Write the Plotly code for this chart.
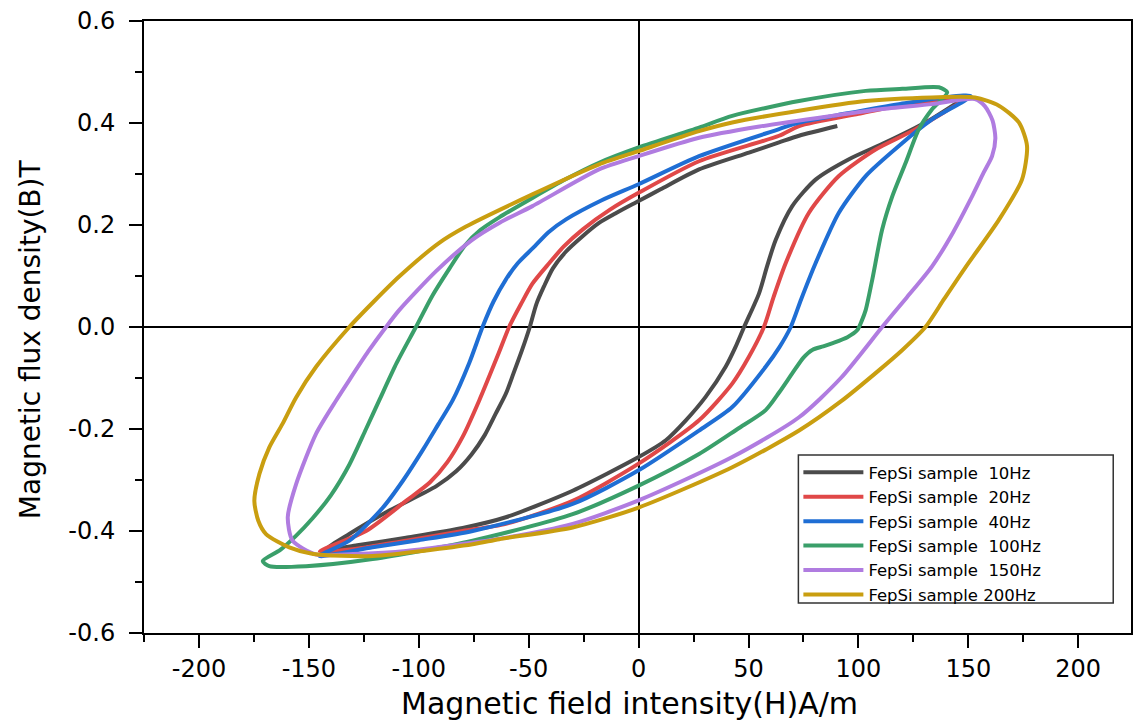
import plotly.graph_objects as go

# ---- data (H in A/m, B in T) ----
series_names = ["FepSi sample \u00a010Hz", "FepSi sample \u00a020Hz", "FepSi sample \u00a040Hz",
                "FepSi sample \u00a0100Hz", "FepSi sample \u00a0150Hz", "FepSi sample 200Hz"]
series_colors = ["#4b4b4b", "#e04848", "#1f6ed4", "#3a9f6a", "#b07ce0", "#c99e10"]

h_10 = [90.4, 73, 63.9, 50.2, 27.5, 10, 0, -10, -18, -26, -33, -39, -43, -46.5, -49.5, -53, -57, -60.4, -65, -70, -76, -83, -92, -113.4, -131.6, -142,
        -128, -105.8, -80, -60.4, -30, 0, 12.4, 21.5, 30.5, 39.6, 44, 48, 54.8, 58.5, 62.4, 69.9, 80.5, 95.7, 112.4, 130.5, 146]
b_10 = [0.394, 0.375, 0.362, 0.342, 0.309, 0.27, 0.247, 0.224, 0.204, 0.176, 0.148, 0.115, 0.08, 0.045, 0.0, -0.045, -0.092, -0.131, -0.17, -0.212, -0.25, -0.283, -0.312, -0.36, -0.406, -0.436,
        -0.428, -0.413, -0.394, -0.373, -0.321, -0.255, -0.222, -0.183, -0.137, -0.078, -0.04, 0.0, 0.066, 0.12, 0.171, 0.237, 0.289, 0.329, 0.362, 0.401, 0.443]

h_20 = [147, 118.4, 100, 73, 63.9, 27.5, 0, -13, -25.5, -34, -40.7, -48.3, -53.5, -58.9, -64, -72.5, -80, -87, -95, -105.8, -124, -145,
        -130, -105.8, -80, -60.4, -30, 0, 27.5, 42.6, 50, 57, 61.5, 66.9, 77.5, 91.1, 107.8, 126, 147]
b_20 = [0.447, 0.434, 0.418, 0.394, 0.375, 0.325, 0.263, 0.23, 0.191, 0.158, 0.125, 0.085, 0.045, 0.0, -0.055, -0.144, -0.215, -0.265, -0.305, -0.341, -0.400, -0.440,
        -0.436, -0.419, -0.4, -0.386, -0.341, -0.268, -0.183, -0.111, -0.06, 0.0, 0.06, 0.125, 0.224, 0.296, 0.348, 0.388, 0.447]

h_40 = [151, 118.4, 90, 73, 63.9, 27.5, 0, -17, -33, -41, -48, -55, -60.4, -66, -71, -77, -84.6, -91, -98, -107, -116.5, -131.6, -145.2,
        -121, -100, -75.5, -30, 0, 27.5, 42.6, 57.8, 64, 69.2, 74, 80.5, 91.1, 103.3, 118.4, 133.5, 151]
b_40 = [0.453, 0.437, 0.415, 0.401, 0.388, 0.335, 0.280, 0.248, 0.211, 0.186, 0.155, 0.125, 0.093, 0.05, 0.0, -0.07, -0.144, -0.19, -0.24, -0.30, -0.355, -0.419, -0.449,
        -0.432, -0.418, -0.40, -0.347, -0.281, -0.203, -0.157, -0.078, -0.04, 0.0, 0.055, 0.125, 0.224, 0.296, 0.355, 0.407, 0.453]

h_100 = [140.4, 136.6, 120, 103.3, 73, 42.6, 27.5, 0, -18, -33, -48.3, -63.4, -72, -79, -86, -94, -101.3, -110, -118, -124, -131.6, -140, -148.3, -156, -163, -171,
         -168, -151.3, -121, -75.5, -30, 0, 27.5, 45, 57.8, 64, 69.9, 75, 79, 84, 88, 95, 99.5, 101.5, 103.3, 106.3, 110.8, 115.4, 121.5, 127.5, 133.5, 140.4]
b_100 = [0.46, 0.47, 0.467, 0.463, 0.443, 0.414, 0.391, 0.352, 0.322, 0.29, 0.253, 0.215, 0.19, 0.16, 0.115, 0.06, 0.0, -0.07, -0.144, -0.2, -0.27, -0.33, -0.375, -0.41, -0.437, -0.459,
         -0.469, -0.469, -0.455, -0.419, -0.367, -0.311, -0.249, -0.2, -0.163, -0.128, -0.091, -0.06, -0.045, -0.038, -0.032, -0.02, -0.006, 0.012, 0.033, 0.093, 0.191, 0.256, 0.322, 0.388, 0.427, 0.46]

h_150 = [153, 133.5, 110, 88, 55, 27.5, 0, -18, -48.3, -63, -76, -92, -108.9, -114.9, -123, -131.6, -137.6, -146.7, -155.8, -159.6, -157.4, -146.7,
         -130, -105.8, -60.4, -30, 0, 42.6, 73, 92, 110.8, 122, 133.5, 143, 151.7, 157, 160.8, 162.3, 161, 157.5, 153]
b_150 = [0.447, 0.437, 0.427, 0.414, 0.393, 0.371, 0.335, 0.309, 0.237, 0.205, 0.17, 0.11, 0.033, 0.0, -0.048, -0.104, -0.144, -0.209, -0.308, -0.373, -0.419, -0.446,
         -0.445, -0.439, -0.413, -0.386, -0.340, -0.255, -0.177, -0.1, 0.0, 0.058, 0.119, 0.185, 0.256, 0.303, 0.335, 0.37, 0.405, 0.433, 0.447]

h_200 = [153, 133.5, 103.3, 73, 42.6, 27.5, 0, -18, -48.3, -78.5, -90.7, -108.9, -120, -131.6, -146.7, -155.8, -162, -168, -172.5, -174.8,
         -173, -169.5, -158.9, -148, -121, -75.5, -63.4, -30, 0, 42.6, 73, 92, 109.3, 120, 130.5, 139, 148.7, 163.9, 174.4, 176.7, 173, 163.9, 153]
b_200 = [0.45, 0.45, 0.443, 0.424, 0.401, 0.384, 0.345, 0.319, 0.26, 0.197, 0.165, 0.099, 0.052, 0.0, -0.078, -0.138, -0.19, -0.236, -0.288, -0.341,
         -0.38, -0.406, -0.432, -0.445, -0.449, -0.426, -0.416, -0.393, -0.354, -0.275, -0.203, -0.146, -0.085, -0.045, 0.0, 0.055, 0.117, 0.21, 0.289, 0.355, 0.401, 0.434, 0.45]

x_tick_vals = [-200, -150, -100, -50, 0, 50, 100, 150, 200]
x_tick_text = ["-200", "-150", "-100", "-50", "0", "50", "100", "150", "200"]
y_tick_vals = [-0.6, -0.4, -0.2, 0.0, 0.2, 0.4, 0.6]
y_tick_text = ["-0.6", "-0.4", "-0.2", "0.0", "0.2", "0.4", "0.6"]

x_title = "Magnetic field intensity(H)A/m"
y_title = "Magnetic flux density(B)T"

FONT = "DejaVu Sans"

fig = go.Figure()
all_h = [h_10, h_20, h_40, h_100, h_150, h_200]
all_b = [b_10, b_20, b_40, b_100, b_150, b_200]
for name, color, hx, by in zip(series_names, series_colors, all_h, all_b):
    fig.add_trace(go.Scatter(x=hx, y=by, mode="lines", name=name,
                             line=dict(color=color, width=4, shape="spline", smoothing=0.7)))

axis_common = dict(
    showline=True, linecolor="black", linewidth=2, mirror=True,
    ticks="outside", ticklen=13, tickwidth=2, tickcolor="black",
    showgrid=False, zeroline=True, zerolinecolor="black", zerolinewidth=2,
    tickfont=dict(family=FONT, size=24, color="black"),
)

fig.update_xaxes(range=[-225, 224], tickvals=x_tick_vals, ticktext=x_tick_text,
                 minor=dict(dtick=25, tick0=0, ticks="outside", ticklen=7, tickwidth=2, tickcolor="black"),
                 **axis_common)
fig.update_yaxes(range=[-0.6, 0.6], tickvals=y_tick_vals, ticktext=y_tick_text,
                 minor=dict(dtick=0.1, tick0=0, ticks="outside", ticklen=7, tickwidth=2, tickcolor="black"),
                 ticklabelstandoff=9, **axis_common)

# legend frame (decoration only) in paper coordinates
legend_box = dict(x0=0.663, x1=0.982, y0=0.049, y1=0.2908)

fig.update_layout(
    width=1134, height=722,
    margin=dict(l=144, r=1, t=21, b=89),
    paper_bgcolor="white", plot_bgcolor="white",
    font=dict(family=FONT, color="black"),
    showlegend=True,
    legend=dict(x=legend_box["x0"], y=legend_box["y1"], xanchor="left", yanchor="top",
                bgcolor="rgba(0,0,0,0)", borderwidth=0,
                font=dict(family=FONT, size=16.5, color="black"),
                itemwidth=60, tracegroupgap=0),
    shapes=[dict(type="rect", xref="paper", yref="paper", layer="above",
                 fillcolor="white", line=dict(color="#333333", width=1.5), **legend_box)],
    annotations=[
        dict(text=x_title, xref="paper", yref="paper", x=0.4924, y=-0.1145,
             xanchor="center", yanchor="middle", showarrow=False,
             font=dict(family=FONT, size=30, color="black")),
        dict(text=y_title, xref="paper", yref="paper", x=-0.1143, y=0.4804,
             xanchor="center", yanchor="middle", showarrow=False, textangle=-90,
             font=dict(family=FONT, size=28, color="black")),
    ],
)

fig.write_html("out.html", config={"displayModeBar": False},
               post_script="document.body.style.margin='0';document.body.style.padding='0';")
